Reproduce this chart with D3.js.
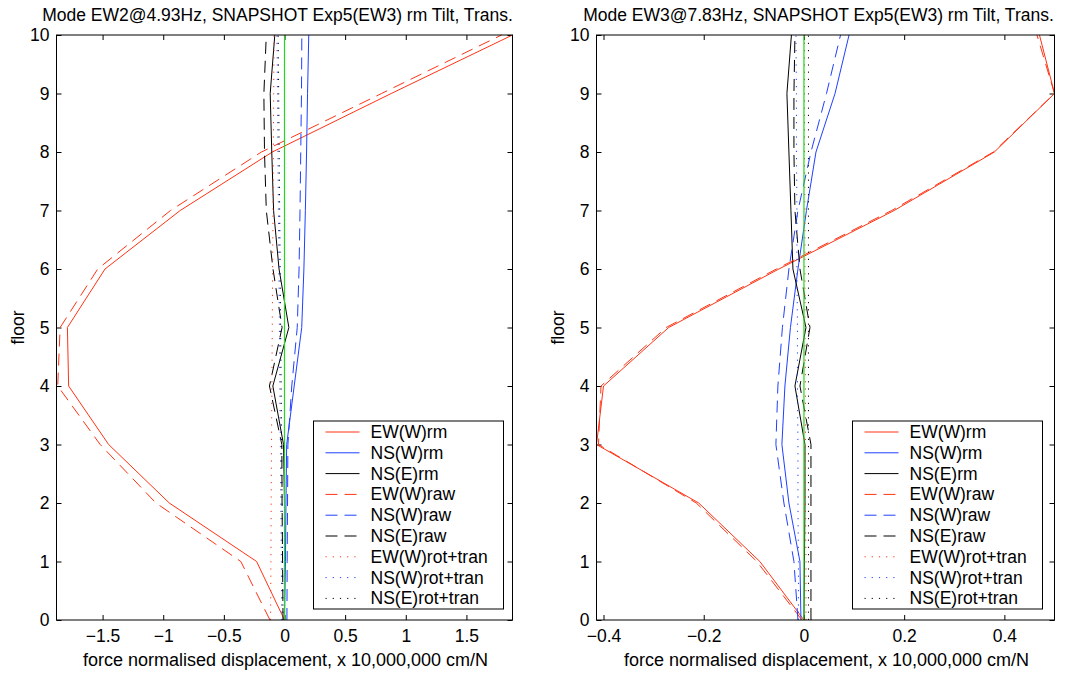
<!DOCTYPE html>
<html>
<head>
<meta charset="utf-8">
<script src="https://d3js.org/d3.v7.min.js"></script>
<style>
body { margin: 0; background: #fff; }
svg { display: block; font-family: "Liberation Sans", Arial, sans-serif; }
.tick text { font-size: 17.5px; fill: #000; }
</style>
</head>
<body>
<div id="chart"></div>
<script>
//floors (y values) shared by every series
var floors = [0, 1, 2, 3, 4, 5, 6, 7, 8, 9, 10];

//legend names, in plot order
var seriesNames = ["EW(W)rm", "NS(W)rm", "NS(E)rm", "EW(W)raw", "NS(W)raw", "NS(E)raw",
	"EW(W)rot+tran", "NS(W)rot+tran", "NS(E)rot+tran"];

//left panel: mode EW2 @ 4.93Hz
var ewRmL = [0, -0.23, -0.95, -1.45, -1.78, -1.79, -1.48, -0.86, -0.10, 0.88, 1.88];
var nsWRmL = [0, 0.008, 0.012, 0.018, 0.08, 0.142, 0.16, 0.172, 0.182, 0.19, 0.2];
var nsERmL = [0, 0, 0, -0.008, -0.096, 0.036, -0.045, -0.09, -0.105, -0.118, -0.08];
var ewRawL = [-0.12, -0.36, -1.06, -1.52, -1.87, -1.85, -1.54, -0.94, -0.19, 0.80, 1.79];
var nsWRawL = [0.02, 0.022, 0.025, 0.028, 0.06, 0.105, 0.12, 0.128, 0.134, 0.14, 0.143];
var nsERawL = [-0.012, -0.016, -0.02, -0.022, -0.124, -0.02, -0.095, -0.15, -0.165, -0.17, -0.15];
var ewRtL = [-0.115, -0.112, -0.11, -0.107, -0.104, -0.101, -0.098, -0.095, -0.092, -0.089, -0.086];
var nsWRtL = [-0.022, -0.026, -0.03, -0.034, -0.038, -0.042, -0.046, -0.05, -0.054, -0.058, -0.062];
var nsERtL = [-0.012, -0.016, -0.02, -0.024, -0.028, -0.032, -0.036, -0.04, -0.044, -0.048, -0.052];

//right panel: mode EW3 @ 7.83Hz
var ewRmR = [0, -0.088, -0.21, -0.414, -0.40, -0.27, -0.05, 0.18, 0.38, 0.5, 0.47];
var nsWRmR = [-0.006, -0.008, -0.03, -0.044, -0.038, -0.027, -0.012, 0.005, 0.024, 0.062, 0.09];
var nsERmR = [0, 0.001, 0.002, 0.002, -0.018, 0.004, -0.022, -0.026, -0.03, -0.034, -0.025];
var ewRawR = [-0.004, -0.094, -0.215, -0.41, -0.405, -0.275, -0.055, 0.175, 0.378, 0.5, 0.465];
var nsWRawR = [-0.012, -0.02, -0.04, -0.056, -0.052, -0.043, -0.03, -0.012, 0.014, 0.045, 0.073];
var nsERawR = [0.014, 0.014, 0.014, 0.014, -0.008, 0.012, -0.008, -0.018, -0.02, -0.02, -0.018];
var ewRtR = [0.004, 0.004, 0.003, 0.003, 0.003, 0.002, 0.002, 0.002, 0.001, 0.001, 0.001];
var nsWRtR = [-0.011, -0.011, -0.012, -0.012, -0.013, -0.013, -0.014, -0.014, -0.015, -0.015, -0.016];
var nsERtR = [0.009, 0.009, 0.009, 0.009, 0.009, 0.009, 0.009, 0.009, 0.009, 0.009, 0.009];

//tick values
var yTicks = [0, 1, 2, 3, 4, 5, 6, 7, 8, 9, 10];
var xTicksL = [-1.5, -1, -0.5, 0, 0.5, 1, 1.5];
var xTicksR = [-0.4, -0.2, 0, 0.2, 0.4];

var red = "#ff3314", blue = "#2040ff", black = "#000", green = "#22d622";
var styles = [
	{color: red, dash: null}, {color: blue, dash: null}, {color: black, dash: null},
	{color: red, dash: "12,7"}, {color: blue, dash: "12,7"}, {color: black, dash: "12,7"},
	{color: red, dash: "1.2,6"}, {color: blue, dash: "1.2,6"}, {color: black, dash: "1.2,6"}
];

//frame dimensions (window.top is reserved, so plotTop)
var width = 1076, height = 673,
	plotTop = 35, plotBottom = 620,
	fontSize = "17.5px";

var svg = d3.select("#chart")
	.append("svg")
		.attr("width", width)
		.attr("height", height);

function fmt(d) {
	return (d < 0 ? "\u2212" : "") + Math.abs(d);
}

function makePanel(opt) {
	var x = d3.scaleLinear().domain(opt.domain).range([opt.left, opt.right]);
	var y = d3.scaleLinear().domain([0, 10]).range([plotBottom, plotTop]);
	var g = svg.append("g");

	//axes, ticks pointing inward on all four sides
	g.append("g")
		.attr("transform", "translate(0," + plotBottom + ")")
		.call(d3.axisBottom(x).tickValues(opt.xTicks).tickFormat(fmt).tickSizeInner(-5).tickSizeOuter(0).tickPadding(10));
	g.append("g")
		.attr("transform", "translate(0," + plotTop + ")")
		.call(d3.axisTop(x).tickValues(opt.xTicks).tickFormat("").tickSizeInner(-5).tickSizeOuter(0));
	g.append("g")
		.attr("transform", "translate(" + opt.left + ",0)")
		.call(d3.axisLeft(y).tickValues(yTicks).tickFormat(d3.format("d")).tickSizeInner(-5).tickSizeOuter(0).tickPadding(7));
	g.append("g")
		.attr("transform", "translate(" + opt.right + ",0)")
		.call(d3.axisRight(y).tickValues(yTicks).tickFormat("").tickSizeInner(-5).tickSizeOuter(0));
	g.selectAll(".domain").remove();
	g.selectAll(".tick line").attr("stroke", "#000");

	//data lines
	var line = d3.line()
		.x(function(d) { return x(d[0]); })
		.y(function(d) { return y(d[1]); });
	opt.series.forEach(function(s, i) {
		g.append("path")
			.datum(s.map(function(v, j) { return [v, floors[j]]; }))
			.attr("d", line)
			.attr("fill", "none")
			.attr("stroke", styles[i].color)
			.attr("stroke-width", 1)
			.attr("stroke-dasharray", styles[i].dash);
	});

	//zero reference line
	g.append("path")
		.datum([[0, 0], [0, 10]])
		.attr("d", line)
		.attr("stroke", green)
		.attr("stroke-width", 1.2);

	//box
	g.append("rect")
		.attr("x", opt.left).attr("y", plotTop)
		.attr("width", opt.right - opt.left).attr("height", plotBottom - plotTop)
		.attr("fill", "none").attr("stroke", "#000").attr("stroke-width", 1);

	//title and axis labels
	g.append("text")
		.attr("x", (opt.left + opt.right) / 2 - 7)
		.attr("y", 21)
		.style("text-anchor", "middle")
		.style("font-size", fontSize)
		.text(opt.title);
	g.append("text")
		.attr("x", (opt.left + opt.right) / 2 + 1)
		.attr("y", 666)
		.style("text-anchor", "middle")
		.style("font-size", "18px")
		.text("force normalised displacement, x 10,000,000 cm/N");
	g.append("text")
		.attr("transform", "translate(" + (opt.left - 32.5) + "," + ((plotTop + plotBottom) / 2) + ") rotate(-90)")
		.style("text-anchor", "middle")
		.style("font-size", fontSize)
		.text("floor");

	//legend
	var lg = g.append("g").attr("transform", "translate(" + opt.legendX + ",421)");
	lg.append("rect")
		.attr("width", opt.legendW).attr("height", 188)
		.attr("fill", "#fff").attr("stroke", "#000").attr("stroke-width", 1);
	seriesNames.forEach(function(name, i) {
		var ly = 11 + i * 20.8;
		lg.append("line")
			.attr("x1", 12).attr("x2", 46)
			.attr("y1", ly).attr("y2", ly)
			.attr("stroke", styles[i].color)
			.attr("stroke-dasharray", styles[i].dash);
		lg.append("text")
			.attr("x", 57).attr("y", ly + 6)
			.style("font-size", fontSize)
			.text(name);
	});
}

makePanel({
	left: 56.5, right: 512.5, domain: [-1.88, 1.88], xTicks: xTicksL,
	title: "Mode EW2@4.93Hz, SNAPSHOT Exp5(EW3) rm Tilt, Trans.",
	series: [ewRmL, nsWRmL, nsERmL, ewRawL, nsWRawL, nsERawL, ewRtL, nsWRtL, nsERtL],
	legendX: 313.5, legendW: 190
});
makePanel({
	left: 596.5, right: 1054.5, domain: [-0.414, 0.5], xTicks: xTicksR,
	title: "Mode EW3@7.83Hz, SNAPSHOT Exp5(EW3) rm Tilt, Trans.",
	series: [ewRmR, nsWRmR, nsERmR, ewRawR, nsWRawR, nsERawR, ewRtR, nsWRtR, nsERtR],
	legendX: 852.5, legendW: 190
});
</script>
</body>
</html>
